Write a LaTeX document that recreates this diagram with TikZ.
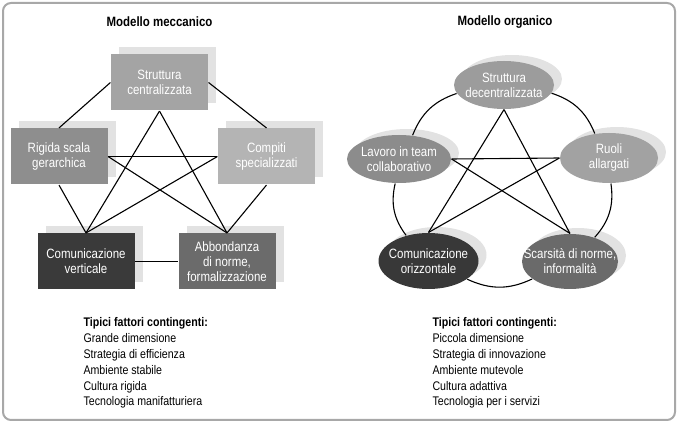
\documentclass[tikz,border=0pt]{standalone}
\usepackage{fontspec}
\setmainfont{Liberation Sans}[FakeStretch=0.85]
\usetikzlibrary{shapes.geometric,shadows}

\definecolor{cSC}{HTML}{A4A4A4}
\definecolor{cRSG}{HTML}{8E8E8E}
\definecolor{cCS}{HTML}{B4B4B4}
\definecolor{cCV}{HTML}{3A3A3A}
\definecolor{cAN}{HTML}{6B6B6B}
\definecolor{cSD}{HTML}{9C9C9C}
\definecolor{cLTC}{HTML}{8C8C8C}
\definecolor{cRA}{HTML}{A2A2A2}
\definecolor{cCO}{HTML}{383838}
\definecolor{cSNI}{HTML}{6A6A6A}
\definecolor{shade}{HTML}{E2E2E2}
\definecolor{frame}{HTML}{A8A8A8}

\begin{document}
\begin{tikzpicture}[x=1pt,y=1pt,line width=1.1pt,
	font=\fontsize{13.5}{15}\selectfont]
	\tikzstyle{box}=[rectangle,text=white,align=center,inner sep=0pt,
		minimum width=97pt,minimum height=56pt,
		drop shadow={shadow xshift=8pt,shadow yshift=7pt,fill=shade,opacity=1}]
	\tikzstyle{oval}=[ellipse,inner sep=0pt,
		drop shadow={shadow xshift=8pt,shadow yshift=6pt,fill=shade,opacity=1}]
	\tikzstyle{every label}=[text=white,align=center,inner sep=0pt]
	\tikzstyle{title}=[font=\fontsize{13.5}{15}\selectfont\bfseries]
	\tikzstyle{factors}=[anchor=base west,align=left,inner sep=0pt,
		font=\fontsize{12.5}{15.8}\selectfont]

	\useasboundingbox (0,0) rectangle (678,423);
	\draw[frame,line width=2pt,rounded corners=8pt] (3,3) rectangle (675,420);

	% modello meccanico
	\node[title] (TM) at (159.5,401) {Modello meccanico};
	\node[box,fill=cSC]  (SC)  at (159.5,340.5) {Struttura\\centralizzata};
	\node[box,fill=cRSG] (RSG) at (59,266.5)    {Rigida scala\\gerarchica};
	\node[box,fill=cCS]  (CS)  at (266.5,266.5) {Compiti\\specializzati};
	\node[box,fill=cCV]  (CV)  at (86,161.5)    {Comunicazione\\verticale};
	\node[box,fill=cAN]  (AN)  at (227,161.5)   {Abbondanza\\di norme,\\formalizzazione};

	\path (SC.west) edge (RSG.north);
	\path (SC.east) edge (CS.north);
	\path (RSG.south) edge (CV.north);
	\path (CS.south) edge (AN.north);
	\path (CV.east) edge (AN.west);
	\path (SC.south) edge (CV.north);
	\path (SC.south) edge (AN.north);
	\path (RSG.east) edge (CS.west);
	\path (RSG.east) edge (AN.north);
	\path (CS.west) edge (CV.north);

	% modello organico
	\node[title] (TO) at (505,401) {Modello organico};
	\node[oval,fill=cSD,minimum width=100pt,minimum height=48pt,
		label=center:{Struttura\\decentralizzata}] (SD) at (504,338) {};
	\node[oval,fill=cLTC,minimum width=104pt,minimum height=48pt,
		label=center:{Lavoro in team\\collaborativo}] (LTC) at (399,264) {};
	\node[oval,fill=cRA,minimum width=98pt,minimum height=50pt,
		label=center:{Ruoli\\allargati}] (RA) at (609,265) {};
	\node[oval,fill=cCO,minimum width=100pt,minimum height=56pt,
		label=center:{Comunicazione\\orizzontale}] (CO) at (428.5,162) {};
	\node[oval,fill=cSNI,minimum width=96pt,minimum height=55pt,
		label=center:{Scarsità di norme,\\informalità}] (SNI) at (570,161.5) {};

	\path (LTC) edge[bend left=25] (SD);
	\path (SD) edge[bend left=25] (RA);
	\path (RA) edge[bend left=25] (SNI);
	\path (SNI) edge[bend left=25] (CO);
	\path (CO) edge[bend left=25] (LTC);
	\path (SD.south) edge (CO.north);
	\path (SD.south) edge (SNI.north);
	\path (LTC.east) edge (RA.west);
	\path (LTC.east) edge (SNI.north);
	\path (RA.west) edge (CO.north);

	% fattori contingenti
	\node[factors] (FM) at (83,17) {\textbf{Tipici fattori contingenti:}\\
		Grande dimensione\\Strategia di efficienza\\Ambiente stabile\\
		Cultura rigida\\Tecnologia manifatturiera};
	\node[factors] (FO) at (432,17) {\textbf{Tipici fattori contingenti:}\\
		Piccola dimensione\\Strategia di innovazione\\Ambiente mutevole\\
		Cultura adattiva\\Tecnologia per i servizi};
\end{tikzpicture}
\end{document}
